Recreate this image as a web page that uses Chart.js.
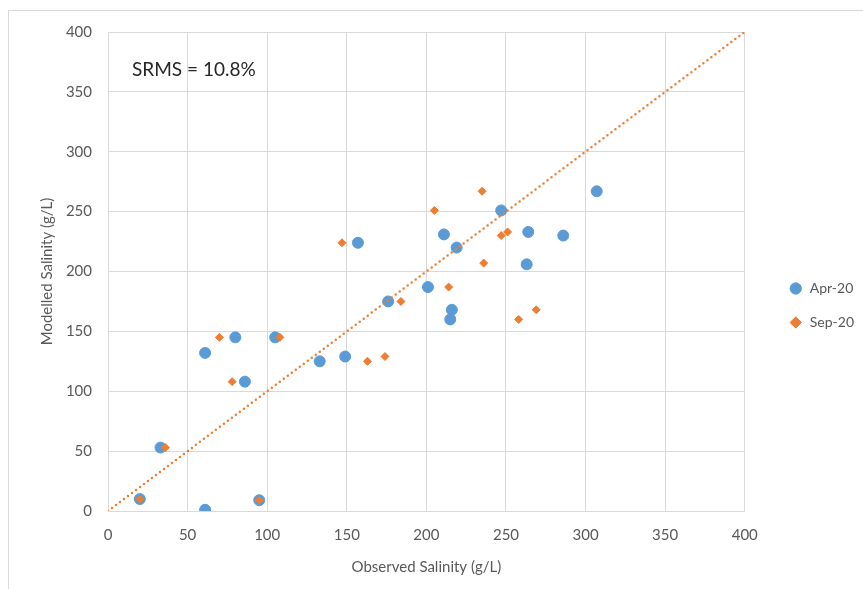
<!DOCTYPE html>
<html>
<head>
<meta charset="utf-8">
<script src="https://cdn.jsdelivr.net/npm/chart.js@4"></script>
<style>
    body { margin: 0; background: #ffffff; }
    #wrap { position: relative; width: 863px; height: 589px; }
    #frame { position: absolute; left: 8px; top: 10px; right: 0; bottom: 0;
             border-left: 1px solid #d9d9d9; border-top: 1px solid #d9d9d9; }
    canvas { position: absolute; left: 0; top: 0; }
</style>
</head>
<body>
<div id="wrap">
    <div id="frame"></div>
    <canvas id="chart" width="863" height="589"></canvas>
</div>
<script>
// Observed vs modelled salinity (g/L)
const aprObserved = [20, 61, 33, 95, 61, 80, 86, 105, 133, 149, 157, 176, 201, 211, 219, 216, 215, 247, 264, 263, 286, 307];
const aprModelled = [10, 1, 53, 9, 132, 145, 108, 145, 125, 129, 224, 175, 187, 231, 220, 168, 160, 251, 233, 206, 230, 267];

const sepObserved = [20, 36, 95, 70, 78, 108, 147, 163, 174, 184, 205, 214, 236, 235, 247, 251, 258, 269];
const sepModelled = [10, 53, 9, 145, 108, 145, 224, 125, 129, 175, 251, 187, 207, 267, 230, 233, 160, 168];

// 1:1 line
const lineX = [0, 400];
const lineY = [0, 400];

const BLUE = '#5b9bd5';
const ORANGE = '#ed7d31';
const TEXT = '#595959';
const GRID = '#d9d9d9';
const FONT = "Lato, 'Open Sans', sans-serif";

function toPoints(xs, ys) {
    return xs.map((x, i) => ({ x: x, y: ys[i] }));
}

// Text label inside the plot area
const srmsLabel = {
    id: 'srmsLabel',
    afterDraw(chart) {
        const { ctx, chartArea } = chart;
        ctx.save();
        ctx.font = "19px " + FONT;
        ctx.fillStyle = '#262626';
        ctx.textBaseline = 'middle';
        ctx.fillText('SRMS = 10.8%', chartArea.left + 24, chartArea.top + 38);
        ctx.restore();
    }
};

// Nudge the legend box a bit further from the plot area
const legendShift = {
    id: 'legendShift',
    afterLayout(chart) {
        const lg = chart.legend;
        if (!lg) return;
        lg.left += 24;
        lg.right += 24;
        lg.top -= 5;
        lg.bottom -= 5;
    }
};

function init() {
    const ctx = document.getElementById('chart').getContext('2d');

    new Chart(ctx, {
        type: 'scatter',
        data: {
            datasets: [
                {
                    label: 'Apr-20',
                    data: toPoints(aprObserved, aprModelled),
                    backgroundColor: BLUE,
                    borderColor: BLUE,
                    borderWidth: 1,
                    pointStyle: 'circle',
                    pointRadius: 5.5,
                    order: 3
                },
                {
                    label: 'Sep-20',
                    data: toPoints(sepObserved, sepModelled),
                    backgroundColor: ORANGE,
                    borderColor: ORANGE,
                    borderWidth: 1,
                    pointStyle: 'rectRot',
                    pointRadius: 4,
                    order: 2
                },
                {
                    label: 'trend',
                    type: 'line',
                    data: toPoints(lineX, lineY),
                    borderColor: ORANGE,
                    borderWidth: 2.5,
                    borderDash: [0, 5],
                    borderCapStyle: 'round',
                    pointRadius: 0,
                    fill: false,
                    order: 1
                }
            ]
        },
        options: {
            responsive: false,
            animation: false,
            layout: { padding: { left: 0, top: 32, right: 23, bottom: 0 } },
            scales: {
                x: {
                    type: 'linear',
                    min: 0,
                    max: 400,
                    ticks: { stepSize: 50, padding: 15, color: TEXT, font: { family: FONT, size: 15 } },
                    grid: { color: GRID, drawTicks: false },
                    border: { color: GRID },
                    title: {
                        display: true,
                        text: 'Observed Salinity (g/L)',
                        color: TEXT,
                        font: { family: FONT, size: 15 },
                        padding: { top: 0, bottom: 13 }
                    },
                    afterFit(scale) { scale.height = 78; }
                },
                y: {
                    type: 'linear',
                    min: 0,
                    max: 400,
                    ticks: { stepSize: 50, padding: 16, color: TEXT, font: { family: FONT, size: 15 } },
                    grid: { color: GRID, drawTicks: false },
                    border: { color: GRID },
                    title: {
                        display: true,
                        text: 'Modelled Salinity (g/L)',
                        color: TEXT,
                        font: { family: FONT, size: 15 },
                        padding: { top: 38, bottom: 0 }
                    },
                    afterFit(scale) { scale.width = 108; }
                }
            },
            plugins: {
                legend: {
                    position: 'right',
                    reverse: true,
                    labels: {
                        usePointStyle: true,
                        boxHeight: 8,
                        padding: 20,
                        color: TEXT,
                        font: { family: FONT, size: 14 },
                        filter: item => item.text !== 'trend'
                    }
                },
                tooltip: { enabled: false }
            }
        },
        plugins: [srmsLabel, legendShift]
    });
}

document.addEventListener('DOMContentLoaded', init);
</script>
</body>
</html>
